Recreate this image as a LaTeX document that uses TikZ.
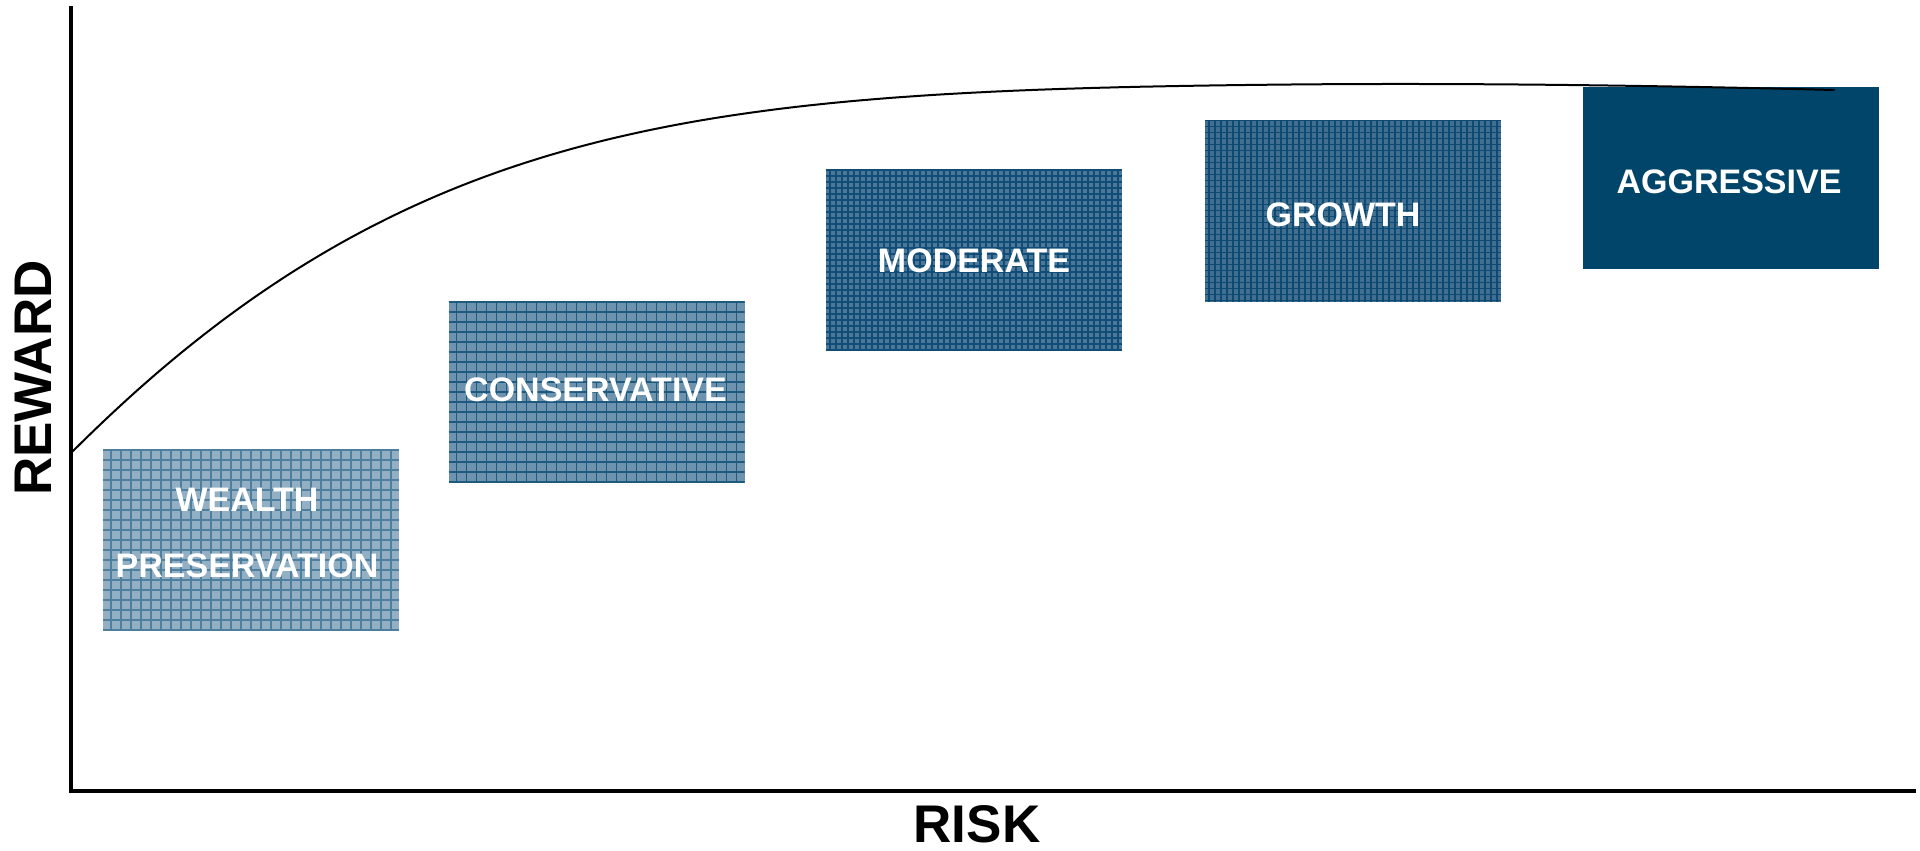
\documentclass[tikz,border=0pt]{standalone}
\usepackage{fontspec}
\setmainfont{Liberation Sans}
\begin{document}
\begin{tikzpicture}[x=1pt,y=-1pt,
  axis/.style={line width=3.5pt,black},
  axislabel/.style={font=\fontsize{53}{60}\selectfont\bfseries,inner sep=0pt},
  profile/.style={minimum width=296pt,minimum height=182pt,inner sep=0pt,draw=none},
  gridbox/.style n args={3}{profile,fill=#1,
    path picture={\draw[color=#2,line width=1.3pt,step=#3]
      (path picture bounding box.south west) grid (path picture bounding box.north east);}},
  boxlabel/.style={text=white,font=\fontsize{34}{66}\selectfont\bfseries,align=center,inner sep=0pt}]

\definecolor{wealthfill}{HTML}{93AFC4}
\definecolor{wealthline}{HTML}{4F7F9F}
\definecolor{consfill}{HTML}{6D93AE}
\definecolor{consline}{HTML}{1E5A80}
\definecolor{modfill}{HTML}{4C7798}
\definecolor{modline}{HTML}{0F4D76}
\definecolor{growfill}{HTML}{426E90}
\definecolor{growline}{HTML}{0D4A73}
\definecolor{aggrfill}{HTML}{01466A}

\useasboundingbox (0,0) rectangle (1920,851);

% axes
\coordinate (origin) at (71,791);
\coordinate (ytop) at (71,6);
\coordinate (xend) at (1916,791);
\draw[axis] (ytop) -- (origin) -- (xend);

% risk profiles
\node[gridbox={wealthfill}{wealthline}{10pt}] (wealth) at (251,540) {};
\node[gridbox={consfill}{consline}{10pt}] (cons) at (596.5,392) {};
\node[gridbox={modfill}{modline}{6pt}] (mod) at (974,260) {};
\node[gridbox={growfill}{growline}{6pt}] (grow) at (1353,210.5) {};
\node[profile,fill=aggrfill] (aggr) at (1731,178) {};

\node[boxlabel] (wealthtxt) at ([xshift=-4pt,yshift=7pt]wealth.center) {WEALTH\\PRESERVATION};
\node[boxlabel] (constxt) at ([xshift=-1pt,yshift=2pt]cons.center) {CONSERVATIVE};
\node[boxlabel] (modtxt) at ([yshift=-1pt]mod.center) {MODERATE};
\node[boxlabel] (growtxt) at ([xshift=-10pt,yshift=-4pt]grow.center) {GROWTH};
\node[boxlabel] (aggrtxt) at ([xshift=-2pt,yshift=-4pt]aggr.center) {AGGRESSIVE};

% reward curve: rises from the reward axis and levels off, dipping slightly at the far end
\draw[line width=2pt,line cap=round] plot[domain=71:1834,samples=240,smooth]
  (\x,{83 + 370*exp(-2.706*(\x-71)/1000 - 1.479*((\x-71)/1000)^2) + 7*(max(0,\x-1300)/534)^2});

% axis titles
\node[axislabel,rotate=90] (reward) at (33,378) {REWARD};
\node[axislabel] (risk) at (977,824) {RISK};
\end{tikzpicture}
\end{document}
